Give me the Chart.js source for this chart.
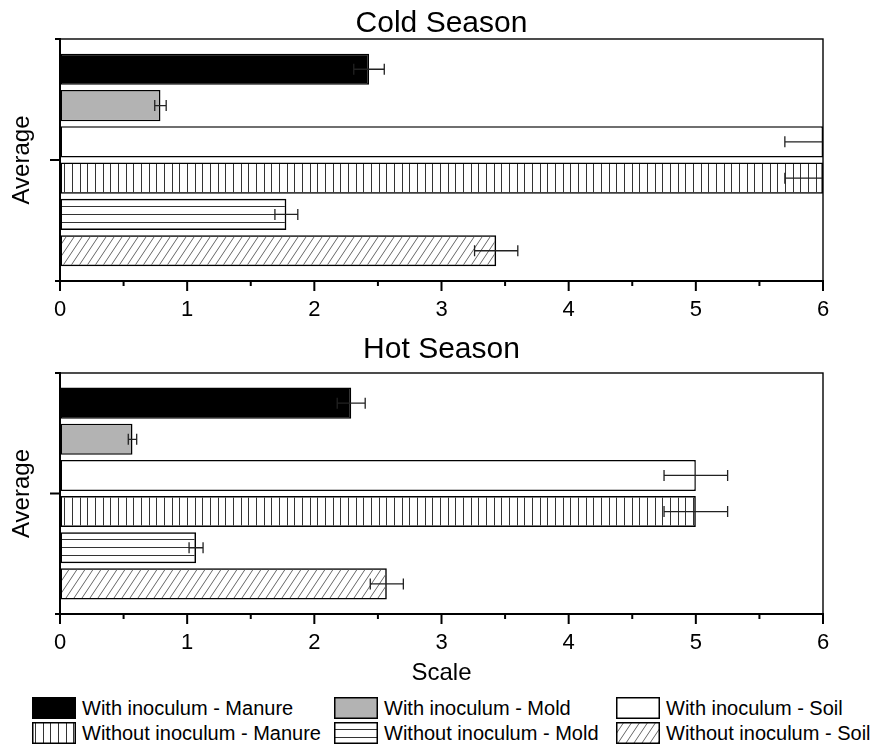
<!DOCTYPE html>
<html>
<head>
<meta charset="utf-8">
<script src="https://cdn.jsdelivr.net/npm/chart.js@4.4.1/dist/chart.umd.min.js"></script>
<style>
  body { margin: 0; background: #fff; font-family: "Liberation Sans", Arial, sans-serif; }
  #wrap { position: relative; width: 871px; height: 747px; overflow: hidden; }
  #c1 { position: absolute; left: 0; top: 0; }
  #c2 { position: absolute; left: 0; top: 325px; }
  .leg { position: absolute; height: 22px; font-size: 20px; line-height: 22px; white-space: nowrap; color: #000; }
  .leg canvas { position: absolute; left: 0; top: 0; }
  .leg span { position: absolute; left: 50px; top: 0; }
</style>
</head>
<body>
<div id="wrap">
  <canvas id="c1" width="871" height="325"></canvas>
  <canvas id="c2" width="871" height="365"></canvas>
  <div id="legend"></div>
</div>
<script>
// data
const categories = ['Average'];
const seriesNames = [
    'With inoculum - Manure', 'With inoculum - Mold', 'With inoculum - Soil',
    'Without inoculum - Manure', 'Without inoculum - Mold', 'Without inoculum - Soil'
];
const coldValues = [2.43, 0.79, 6.0, 6.0, 1.78, 3.43];
const coldErrors = [0.12, 0.045, 0.30, 0.30, 0.09, 0.17];
const hotValues = [2.29, 0.57, 5.0, 5.0, 1.07, 2.57];
const hotErrors = [0.11, 0.033, 0.25, 0.25, 0.055, 0.13];
const xMin = 0, xMax = 6, xStep = 1, xMinorStep = 0.5;

Chart.defaults.font.family = "'Liberation Sans', Arial, sans-serif";
Chart.defaults.color = '#000';

// hatch patterns like in the original figure
function makePatterns(ctx) {
    const v = document.createElement('canvas');
    v.width = 23; v.height = 4;
    let g = v.getContext('2d');
    g.fillStyle = '#333';
    [3, 11, 18].forEach(px => g.fillRect(px, 0, 1, 4));

    const h = document.createElement('canvas');
    h.width = 4; h.height = 31;
    g = h.getContext('2d');
    g.fillStyle = '#333';
    [7, 15, 23].forEach(py => g.fillRect(0, py, 4, 1));

    const d = document.createElement('canvas');
    d.width = 8; d.height = 12;
    g = d.getContext('2d');
    g.strokeStyle = '#666';
    g.lineWidth = 1;
    for (let k = -1; k <= 1; k++) {
        g.beginPath();
        g.moveTo(k * 8, 12);
        g.lineTo(k * 8 + 8, 0);
        g.stroke();
    }
    return {
        vert: ctx.createPattern(v, 'repeat'),
        horiz: ctx.createPattern(h, 'repeat'),
        diag: ctx.createPattern(d, 'repeat')
    };
}

function fillsFor(ctx) {
    const p = makePatterns(ctx);
    return ['#000000', '#b3b3b3', '#ffffff', p.vert, p.horiz, p.diag];
}

// frame, axis ticks and error bars
const frameAndErrors = {
    id: 'frameAndErrors',
    beforeDatasetsDraw(chart) {
        // line the horizontal hatch up with the top of its bar
        const el = chart.getDatasetMeta(4).data[0];
        const pat = chart.data.datasets[4].backgroundColor;
        if (el && pat && pat.setTransform) {
            const top = Math.round(el.y - el.height / 2);
            pat.setTransform(new DOMMatrix([1, 0, 0, 1, 0, top]));
        }
    },
    afterDatasetsDraw(chart) {
        const { ctx, chartArea: a, scales: { x, y } } = chart;

        // error bars
        ctx.save();
        ctx.beginPath();
        ctx.rect(a.left, a.top - 1, a.right - a.left, a.bottom - a.top + 2);
        ctx.clip();
        ctx.strokeStyle = '#222';
        ctx.lineWidth = 1.3;
        chart.data.datasets.forEach((ds, i) => {
            const el = chart.getDatasetMeta(i).data[0];
            const v = ds.data[0], e = ds.errors[0];
            const x0 = x.getPixelForValue(v - e);
            const x1 = x.getPixelForValue(v + e);
            const yc = el.y;
            ctx.beginPath();
            ctx.moveTo(x0, yc); ctx.lineTo(x1, yc);
            ctx.moveTo(x0, yc - 5.5); ctx.lineTo(x0, yc + 5.5);
            ctx.moveTo(x1, yc - 5.5); ctx.lineTo(x1, yc + 5.5);
            ctx.stroke();
        });
        ctx.restore();

        // frame
        ctx.save();
        ctx.strokeStyle = '#000';
        ctx.lineWidth = 1.4;
        ctx.strokeRect(a.left, a.top, a.right - a.left, a.bottom - a.top);
        ctx.lineWidth = 2;
        ctx.beginPath();
        ctx.moveTo(a.left, a.top - 1);
        ctx.lineTo(a.left, a.bottom);
        ctx.lineTo(a.right + 1, a.bottom);
        ctx.stroke();

        // x ticks, major and minor
        for (let t = xMin; t <= xMax + 1e-9; t += xMinorStep) {
            const px = x.getPixelForValue(t);
            const major = Math.abs(t - Math.round(t)) < 1e-9;
            ctx.beginPath();
            ctx.moveTo(px, a.bottom);
            ctx.lineTo(px, a.bottom + (major ? 10 : 5));
            ctx.stroke();
        }
        // y ticks: category centre and edges
        const yc = y.getPixelForValue(0);
        ctx.beginPath();
        ctx.moveTo(a.left, yc); ctx.lineTo(a.left - 10, yc);
        ctx.moveTo(a.left, a.top); ctx.lineTo(a.left - 5, a.top);
        ctx.moveTo(a.left, a.bottom); ctx.lineTo(a.left - 5, a.bottom);
        ctx.stroke();
        ctx.restore();
    }
};

function buildChart(canvasId, title, values, errors, titlePad, xHeight, showXTitle) {
    const ctx = document.getElementById(canvasId).getContext('2d');
    const fills = fillsFor(ctx);
    return new Chart(ctx, {
        type: 'bar',
        data: {
            labels: categories,
            datasets: seriesNames.map((name, i) => ({
                label: name,
                data: [values[i]],
                errors: [errors[i]],
                backgroundColor: fills[i],
                borderColor: '#000',
                borderWidth: 1.5,
                borderSkipped: false,
                categoryPercentage: 0.9,
                barPercentage: 0.86
            }))
        },
        options: {
            indexAxis: 'y',
            responsive: false,
            animation: false,
            layout: { padding: { left: 0, right: 48, top: 0, bottom: 0 } },
            plugins: {
                legend: { display: false },
                tooltip: { enabled: false },
                title: {
                    display: true,
                    fullSize: false,
                    text: title,
                    color: '#000',
                    font: { size: 30, weight: 'normal', lineHeight: 1 },
                    padding: titlePad
                }
            },
            scales: {
                x: {
                    type: 'linear',
                    min: xMin,
                    max: xMax,
                    ticks: { stepSize: xStep, padding: 6, font: { size: 22 }, color: '#000' },
                    grid: { display: true, drawOnChartArea: false, tickLength: 10, tickColor: 'rgba(0,0,0,0)' },
                    border: { display: false },
                    title: {
                        display: showXTitle,
                        text: 'Scale',
                        color: '#000',
                        font: { size: 24 },
                        padding: { top: 0, bottom: 2 }
                    },
                    afterFit(s) { s.height = xHeight; }
                },
                y: {
                    ticks: { display: false },
                    grid: { display: false },
                    border: { display: false },
                    title: {
                        display: true,
                        text: 'Average',
                        color: '#000',
                        font: { size: 24 },
                        padding: { top: 8, bottom: 0 }
                    },
                    afterFit(s) { s.width = 60; }
                }
            }
        },
        plugins: [frameAndErrors]
    });
}

buildChart('c1', 'Cold Season', coldValues, coldErrors, { top: 9, bottom: 0 }, 44, false);
buildChart('c2', 'Hot Season', hotValues, hotErrors, { top: 10, bottom: 8 }, 76, true);

// legend, three columns by two rows
const legCols = [32, 334, 616];
const legRows = [697, 722];
const legend = document.getElementById('legend');
seriesNames.forEach((name, i) => {
    const item = document.createElement('div');
    item.className = 'leg';
    item.style.left = legCols[i % 3] + 'px';
    item.style.top = legRows[Math.floor(i / 3)] + 'px';
    const sw = document.createElement('canvas');
    sw.width = 44; sw.height = 22;
    const g = sw.getContext('2d');
    g.fillStyle = '#fff';
    g.fillRect(0, 0, 44, 22);
    g.fillStyle = fillsFor(g)[i];
    g.fillRect(1, 1, 42, 20);
    g.strokeStyle = '#000';
    g.lineWidth = 1.5;
    g.strokeRect(0.75, 0.75, 42.5, 20.5);
    const txt = document.createElement('span');
    txt.textContent = name;
    item.appendChild(sw);
    item.appendChild(txt);
    legend.appendChild(item);
});
</script>
</body>
</html>
